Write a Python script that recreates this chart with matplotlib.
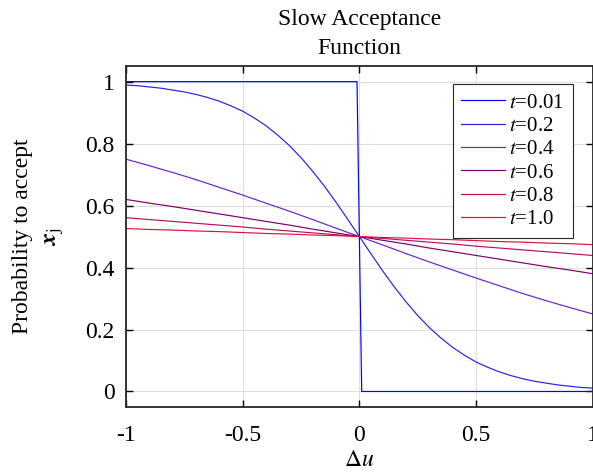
import numpy as np
import matplotlib
matplotlib.use("Agg")
import matplotlib.pyplot as plt

plt.rcParams["font.family"] = ["Liberation Serif", "DejaVu Serif"]
plt.rcParams["mathtext.fontset"] = "stix"
plt.rcParams["axes.unicode_minus"] = False

# ---- data ----
du = [-1.0, -0.9, -0.8, -0.7, -0.6, -0.5, -0.4, -0.3, -0.2, -0.1, 0.0,
      0.1, 0.2, 0.3, 0.4, 0.5, 0.6, 0.7, 0.8, 0.9, 1.0]

# finer grid for the steep t = 0.2 curve
du_fine = [-1.0, -0.95, -0.9, -0.85, -0.8, -0.75, -0.7, -0.65, -0.6, -0.55, -0.5,
           -0.45, -0.4, -0.35, -0.3, -0.25, -0.2, -0.15, -0.1, -0.05, 0.0,
           0.05, 0.1, 0.15, 0.2, 0.25, 0.3, 0.35, 0.4, 0.45, 0.5,
           0.55, 0.6, 0.65, 0.7, 0.75, 0.8, 0.85, 0.9, 0.95, 1.0]

# t = 0.01 is essentially a step
du_step = [-1.0, -0.01, 0.01, 1.0]
p_t001 = [1.0, 1.0, 0.0, 0.0]

p_t02 = [0.989, 0.987, 0.983, 0.979, 0.973, 0.967, 0.959, 0.949, 0.937, 0.922, 0.905,
         0.883, 0.858, 0.828, 0.794, 0.755, 0.711, 0.663, 0.611, 0.556, 0.500,
         0.444, 0.389, 0.337, 0.289, 0.245, 0.206, 0.172, 0.142, 0.117, 0.095,
         0.078, 0.063, 0.051, 0.041, 0.033, 0.027, 0.021, 0.017, 0.013, 0.011]
p_t04 = [0.750, 0.729, 0.707, 0.684, 0.659, 0.634, 0.608, 0.582, 0.555, 0.527, 0.5,
         0.473, 0.445, 0.418, 0.392, 0.366, 0.341, 0.316, 0.293, 0.271, 0.250]
p_t06 = [0.620, 0.608, 0.597, 0.585, 0.573, 0.561, 0.549, 0.537, 0.524, 0.512, 0.5,
         0.488, 0.476, 0.463, 0.451, 0.439, 0.427, 0.415, 0.403, 0.392, 0.380]
p_t08 = [0.561, 0.555, 0.549, 0.543, 0.537, 0.531, 0.524, 0.518, 0.512, 0.506, 0.5,
         0.494, 0.488, 0.482, 0.476, 0.469, 0.463, 0.457, 0.451, 0.445, 0.439]
p_t10 = [0.526, 0.523, 0.521, 0.518, 0.516, 0.513, 0.510, 0.508, 0.505, 0.503, 0.5,
         0.497, 0.495, 0.492, 0.490, 0.487, 0.484, 0.482, 0.479, 0.477, 0.474]

labels = ["$t$=0.01", "$t$=0.2", "$t$=0.4", "$t$=0.6", "$t$=0.8", "$t$=1.0"]
colors = ["#0000ff", "#2a1ee6", "#6a22c4", "#78006e", "#b8105e", "#e0103c"]

xticks = [-1, -0.5, 0, 0.5, 1]
xticklabels = ["-1", "-0.5", "0", "0.5", "1"]
yticks = [0, 0.2, 0.4, 0.6, 0.8, 1]
yticklabels = ["0", "0.2", "0.4", "0.6", "0.8", "1"]

fig = plt.figure(figsize=(5.93, 4.76), dpi=100)
ax = fig.add_axes([0.212, 0.145, 0.788, 0.716])

series = [(du_step, p_t001), (du_fine, p_t02), (du, p_t04), (du, p_t06), (du, p_t08), (du, p_t10)]
for (xs, ys), lab, c in zip(series, labels, colors):
    ax.plot(xs, ys, color=c, linewidth=0.85, label=lab)

ax.set_xlim(-1, 1)
ax.set_ylim(-0.05, 1.05)
ax.set_xticks(xticks)
ax.set_xticklabels(xticklabels)
ax.set_yticks(yticks)
ax.set_yticklabels(yticklabels)
ax.tick_params(direction="in", top=True, right=True, length=5, width=1.0,
               labelsize=17, pad=8)
ax.tick_params(axis="x", pad=13)
ax.grid(True, color="#dedede", linewidth=0.8)
ax.set_axisbelow(True)
for s in ax.spines.values():
    s.set_linewidth(1.3)
    s.set_color("#262626")

ax.set_xlabel(r"$\Delta u$", fontsize=17, labelpad=3)
ax.set_ylabel("Probability to accept\n" + r"$\boldsymbol{x}_{\mathrm{j}}$", fontsize=17,
              labelpad=14, linespacing=1.45)
ax.set_title("Slow Acceptance\nFunction", fontsize=17, pad=9, linespacing=1.45)

leg = ax.legend(loc="upper right", bbox_to_anchor=(0.957, 0.947), borderaxespad=0,
                fontsize=15, fancybox=False, framealpha=1, edgecolor="#262626",
                handlelength=2.1, handletextpad=0.2, labelspacing=0.18,
                borderpad=0.42)
leg.get_frame().set_linewidth(0.8)

fig.savefig("out.png", dpi=100)
